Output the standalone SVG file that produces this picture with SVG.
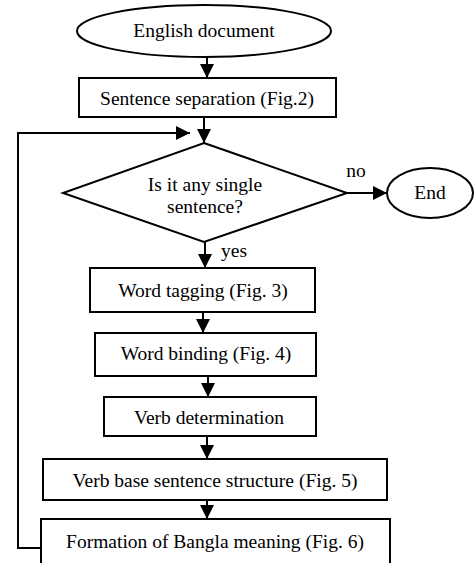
<svg xmlns="http://www.w3.org/2000/svg" width="474" height="563" viewBox="0 0 474 563">
<style>
.s{fill:#fff;stroke:#000;stroke-width:2}
.t{font-family:'Liberation Serif','DejaVu Serif',Tinos,'Times New Roman',Times,serif;font-size:19.5px;fill:#000;text-anchor:middle}
.c{fill:none;stroke:#000;stroke-width:2}
</style>
<defs>
<marker id="ah" viewBox="0 0 14 14" refX="14" refY="7" markerWidth="14" markerHeight="14" markerUnits="userSpaceOnUse" orient="auto">
<path d="M0,0 L14,7 L0,14 z" fill="#000"/>
</marker>
</defs>
<rect width="474" height="563" fill="#fff"/>
<g id="connectors">
<line class="c" x1="207" y1="57" x2="207" y2="78" marker-end="url(#ah)"/>
<line class="c" x1="204" y1="117" x2="204" y2="143" marker-end="url(#ah)"/>
<polyline class="c" points="41,548 18,548 18,133 190,133" marker-end="url(#ah)"/>
<line class="c" x1="347" y1="193" x2="387" y2="193" marker-end="url(#ah)"/>
<line class="c" x1="205" y1="242" x2="205" y2="268" marker-end="url(#ah)"/>
<line class="c" x1="203" y1="312" x2="203" y2="333" marker-end="url(#ah)"/>
<line class="c" x1="208" y1="376" x2="208" y2="397" marker-end="url(#ah)"/>
<line class="c" x1="207" y1="436" x2="207" y2="459" marker-end="url(#ah)"/>
<line class="c" x1="207" y1="500" x2="207" y2="519" marker-end="url(#ah)"/>
<text class="t" font-family="Liberation Serif, serif" x="356" y="177">no</text>
<text class="t" font-family="Liberation Serif, serif" x="234" y="257">yes</text>
</g>
<g id="start">
<ellipse class="s" cx="204" cy="31" rx="127" ry="26"/>
<text class="t" font-family="Liberation Serif, serif" x="204" y="37">English document</text>
</g>
<g id="sentence-separation">
<rect class="s" x="79" y="78" width="257" height="39"/>
<text class="t" font-family="Liberation Serif, serif" x="207" y="105">Sentence separation (Fig.2)</text>
</g>
<g id="decision">
<polygon class="s" points="204,143 347,193 204,242 63,193"/>
<text class="t" font-family="Liberation Serif, serif" x="205" y="191">Is it any single</text>
<text class="t" font-family="Liberation Serif, serif" x="205" y="213">sentence?</text>
</g>
<g id="end">
<ellipse class="s" cx="430" cy="193" rx="43" ry="25"/>
<text class="t" font-family="Liberation Serif, serif" x="430" y="199">End</text>
</g>
<g id="word-tagging">
<rect class="s" x="90" y="268" width="225" height="44"/>
<text class="t" font-family="Liberation Serif, serif" x="203" y="297">Word tagging (Fig. 3)</text>
</g>
<g id="word-binding">
<rect class="s" x="95" y="333" width="221" height="43"/>
<text class="t" font-family="Liberation Serif, serif" x="206" y="360">Word binding (Fig. 4)</text>
</g>
<g id="verb-determination">
<rect class="s" x="104" y="397" width="212" height="39"/>
<text class="t" font-family="Liberation Serif, serif" x="209" y="424">Verb determination</text>
</g>
<g id="verb-base">
<rect class="s" x="43" y="459" width="344" height="41"/>
<text class="t" font-family="Liberation Serif, serif" x="215" y="487">Verb base sentence structure (Fig. 5)</text>
</g>
<g id="formation">
<rect class="s" x="41" y="519" width="349" height="50"/>
<text class="t" font-family="Liberation Serif, serif" x="215" y="548">Formation of Bangla meaning (Fig. 6)</text>
</g>
</svg>
